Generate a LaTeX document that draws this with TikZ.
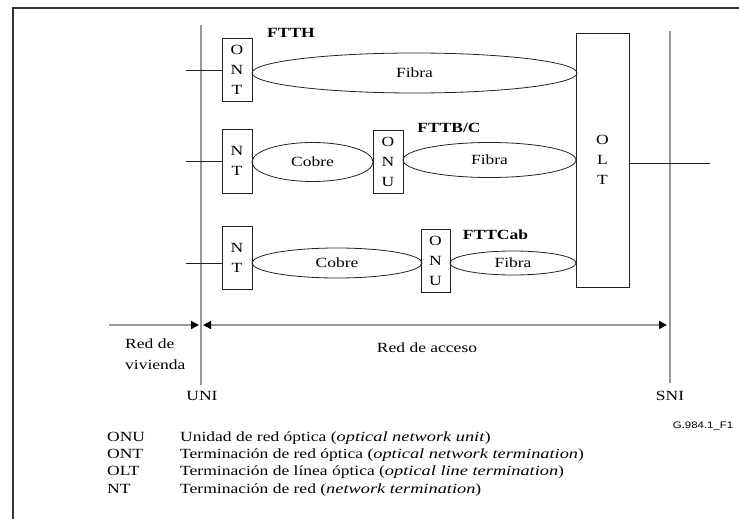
\documentclass[tikz,border=0pt]{standalone}
\usepackage{fontspec}
\setmainfont{Liberation Serif}[
  UprightFeatures={FakeStretch=1.25},
  BoldFeatures={FakeStretch=1.25},
  ItalicFeatures={FakeStretch=1.31}]
\newfontfamily\figsans{Liberation Sans}[FakeStretch=1.2]
\usetikzlibrary{shapes.geometric,arrows.meta}
\definecolor{linegray}{HTML}{9A9A9A}
\definecolor{framegray}{HTML}{333333}
\definecolor{ink}{HTML}{222222}
\begin{document}
\begin{tikzpicture}[x=1pt,y=-1pt,
  font=\fontsize{14}{17}\selectfont,
  unit/.style={draw=ink, line width=0.8pt, inner sep=0pt, align=center,
    font=\fontsize{14}{20}\selectfont},
  link/.style={draw=ink, ellipse, line width=0.8pt, inner sep=0pt},
  wire/.style={draw=ink, line width=0.8pt},
  refline/.style={draw=linegray, line width=1.4pt},
  head/.tip={Triangle[color=black, length=8pt, width=8pt]},
  label/.style={anchor=base, inner sep=0pt},
  tag/.style={anchor=base, inner sep=0pt, font=\fontsize{14}{17}\selectfont\bfseries},
  abbr/.style={anchor=base west, inner sep=0pt}]
\useasboundingbox (0,0) rectangle (739,519);

% outer frame (open to the right and bottom)
\draw[framegray, line width=2.2pt] (13,519) -- (13,8.3) -- (739,8.3);

% UNI and SNI reference lines
\coordinate (unitop) at (201,25);
\coordinate (unibot) at (201,385);
\coordinate (snitop) at (670,31);
\coordinate (snibot) at (670,383);
\draw[refline] (unitop) -- (unibot);
\draw[refline] (snitop) -- (snibot);

% terminal units
\node[unit, minimum width=30pt, minimum height=63pt] (ont)  at (237,69.5)  {O\\N\\T};
\node[unit, minimum width=30pt, minimum height=64pt] (nt2)  at (237,161)   {N\\T};
\node[unit, minimum width=30pt, minimum height=63pt] (nt3)  at (237,257.5) {N\\T};
\node[unit, minimum width=30pt, minimum height=63pt] (onu2) at (388,161.5) {O\\N\\U};
\node[unit, minimum width=29pt, minimum height=63pt] (onu3) at (435.5,260.5) {O\\N\\U};
\node[unit, minimum width=53pt, minimum height=254pt] (olt) at (602.5,160) {O\\L\\T};

% transmission media
\node[link, minimum width=325pt, minimum height=40pt] (fib1) at (414.5,73)  {Fibra};
\node[link, minimum width=121pt, minimum height=39pt] (cob2) at (312.5,162) {Cobre};
\node[link, minimum width=173pt, minimum height=35pt] (fib2) at (489.5,160) {Fibra};
\node[link, minimum width=170pt, minimum height=30pt] (cob3) at (337,263)   {Cobre};
\node[link, minimum width=126pt, minimum height=24pt] (fib3) at (513,263)   {Fibra};

% customer-side stubs and network-side line
\coordinate (u1) at (186,70);
\coordinate (u2) at (186,161);
\coordinate (u3) at (186,263);
\coordinate (s1) at (710,163);
\draw[wire] (u1) -- (u1 -| ont.west);
\draw[wire] (u2) -- (u2 -| nt2.west);
\draw[wire] (u3) -- (u3 -| nt3.west);
\draw[wire] (s1 -| olt.east) -- (s1);

% architecture tags
\node[tag] (ftth) at (291,38)    {FTTH};
\node[tag] (fttb) at (449,132)   {FTTB/C};
\node[tag] (fttc) at (495.5,239) {FTTCab};

% network extents
\coordinate (hleft) at (109,325);
\draw[refline, -head, shorten >=2pt] (hleft) -- (unitop |- hleft);
\draw[refline, head-head, shorten <=2pt, shorten >=3pt] (unitop |- hleft) -- (snitop |- hleft);

\node[abbr] (viv1) at (125,348) {Red de};
\node[abbr] (viv2) at (125,369) {vivienda};
\node[label] (acc) at (427,352) {Red de acceso};
\node[label] (uni) at (202,400) {UNI};
\node[label] (sni) at (670,400) {SNI};
\node[label, font=\figsans\fontsize{9.5}{11}\selectfont] (fig) at (703,428) {G.984.1\_F1};

% legend
\node[abbr] (k1) at (107,441)   {ONU};
\node[abbr] (k2) at (107,458.3) {ONT};
\node[abbr] (k3) at (107,475.7) {OLT};
\node[abbr] (k4) at (107,493)   {NT};
\node[abbr] (d1) at (180,441)   {Unidad de red óptica (\textit{optical network unit})};
\node[abbr] (d2) at (180,458.3) {Terminación de red óptica (\textit{optical network termination})};
\node[abbr] (d3) at (180,475.7) {Terminación de línea óptica (\textit{optical line termination})};
\node[abbr] (d4) at (180,493)   {Terminación de red (\textit{network termination})};
\end{tikzpicture}
\end{document}
